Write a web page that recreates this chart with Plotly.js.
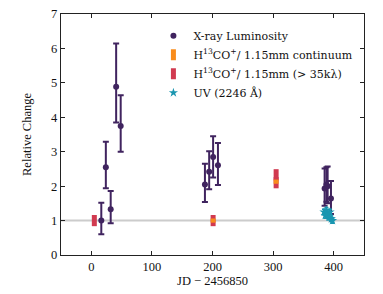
<!DOCTYPE html>
<html><head><meta charset="utf-8">
<script src="https://cdn.plot.ly/plotly-3.0.1.min.js"></script>
<style>html,body{margin:0;padding:0;background:#fff}#c{width:383px;height:294px}</style>
</head><body><div id="c"></div>
<script>
const xrayX = [16.5, 24, 32, 41, 48.5, 187.5, 194.5, 201, 209, 385, 388, 390, 395.5];
const xrayY = [1.0, 2.55, 1.33, 4.89, 3.75, 2.05, 2.42, 2.85, 2.61, 1.93, 2.05, 2.0, 1.64];
const xrayErrUp = [0.52, 0.74, 0.53, 1.25, 0.89, 0.6, 0.59, 0.6, 0.64, 0.58, 0.5, 0.57, 0.51];
const xrayErrDown = [0.4, 0.61, 0.41, 1.04, 0.75, 0.51, 0.51, 0.6, 0.58, 0.5, 0.5, 0.5, 0.45];
const contX = [201, 305];
const contY = [1.0, 2.13];
const longX = [5, 201, 305, 305];
const longY = [1.0, 1.0, 2.1, 2.33];
const uvX = [384, 386, 388, 390, 392, 394, 396, 398];
const uvY = [1.25, 1.15, 1.3, 1.2, 1.1, 1.25, 1.05, 1.0];
const uvErr = [0.08, 0.08, 0.08, 0.08, 0.08, 0.08, 0.08, 0.08];
const seriesNames = ['X-ray Luminosity', 'H<sup>13</sup>CO<sup>+</sup>/ 1.15mm continuum',
                     'H<sup>13</sup>CO<sup>+</sup>/ 1.15mm (> 35kλ)', 'UV (2246 Å)'];

const purple = '#40245f', orange = '#f98c1c', red = '#d13a50', cyan = '#1a96b0';
const FONT = 'Liberation Serif, DejaVu Serif, serif';
const LFONT = 'DejaVu Serif, serif';

const traces = [
  {x: longX, y: longY, type: 'scatter', mode: 'markers', name: seriesNames[2], legendrank: 3,
   marker: {symbol: 'line-ns-open', size: 8, color: red, line: {color: red, width: 5}}},
  {x: contX, y: contY, type: 'scatter', mode: 'markers', name: seriesNames[1], showlegend: false,
   marker: {symbol: 'line-ns-open', size: 3, color: orange, line: {color: orange, width: 5}}},
  {x: [null], y: [null], type: 'scatter', mode: 'markers', name: seriesNames[1], legendrank: 2,
   marker: {symbol: 'line-ns-open', size: 8, color: orange, line: {color: orange, width: 5}}},
  {x: xrayX, y: xrayY, type: 'scatter', mode: 'markers', name: seriesNames[0], legendrank: 1,
   marker: {symbol: 'circle', size: 6, color: purple},
   error_y: {type: 'data', symmetric: false, array: xrayErrUp, arrayminus: xrayErrDown, color: purple, thickness: 2, width: 3}},
  {x: uvX, y: uvY, type: 'scatter', mode: 'markers', name: seriesNames[3], legendrank: 4,
   marker: {symbol: 'star', size: 7, color: cyan},
   error_y: {type: 'data', array: uvErr, color: cyan, thickness: 1.5, width: 2}}
];

const layout = {
  width: 383, height: 294,
  margin: {l: 61, r: 19, t: 14, b: 39},
  paper_bgcolor: '#fff', plot_bgcolor: '#fff',
  font: {family: FONT, size: 12.5, color: '#111'},
  showlegend: true,
  legend: {x: 0.305, y: 0.97, xanchor: 'left', yanchor: 'top', bgcolor: 'rgba(0,0,0,0)',
           font: {family: LFONT, size: 11, color: '#111'}, tracegroupgap: 0, itemwidth: 30},
  xaxis: {range: [-50, 450], tickvals: [0, 100, 200, 300, 400], ticks: 'inside', ticklen: 4, tickcolor: '#222',
          showline: true, linecolor: '#222', linewidth: 1.3, mirror: 'ticks', showgrid: false, zeroline: false,
          title: {text: 'JD − 2456850', font: {family: FONT, size: 12.5}, standoff: 0}},
  yaxis: {range: [0, 7], tickvals: [0, 1, 2, 3, 4, 5, 6, 7], ticks: 'inside', ticklen: 4, tickcolor: '#222',
          showline: true, linecolor: '#222', linewidth: 1.3, mirror: 'ticks', showgrid: false, zeroline: false,
          title: {text: 'Relative Change', font: {family: FONT, size: 12.5}, standoff: 16}},
  shapes: [{type: 'line', xref: 'paper', x0: 0, x1: 1, yref: 'y', y0: 1, y1: 1, layer: 'below',
            line: {color: '#cccccc', width: 2}}]
};
Plotly.newPlot('c', traces, layout, {displayModeBar: false, staticPlot: true});
</script></body></html>
